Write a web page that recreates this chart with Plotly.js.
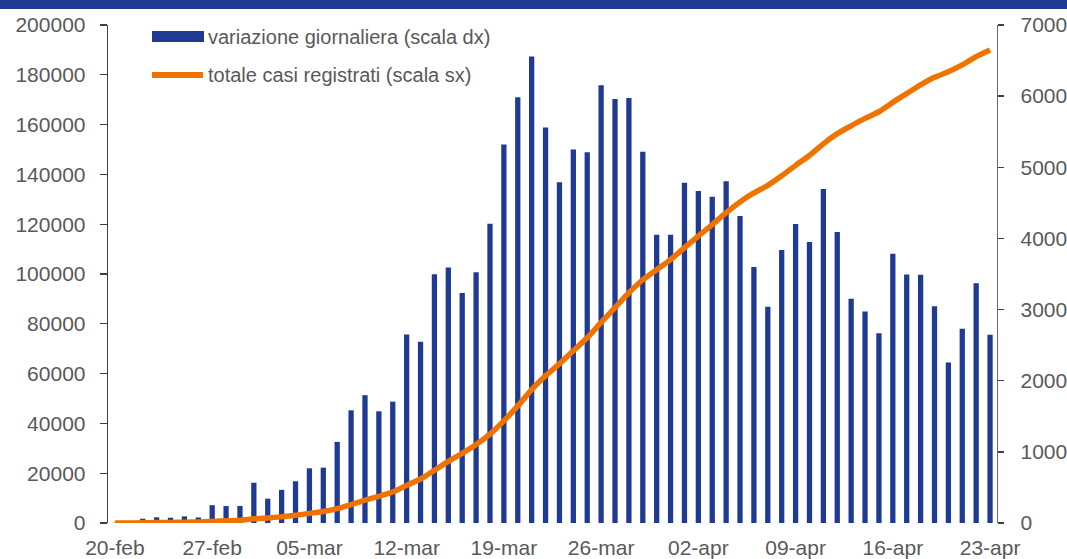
<!DOCTYPE html>
<html>
<head>
<meta charset="utf-8">
<script src="https://cdn.plot.ly/plotly-3.0.1.min.js"></script>
<style>
  html, body { margin: 0; padding: 0; background: #ffffff; }
  #chart { width: 1067px; height: 559px; }
</style>
</head>
<body>
<div id="chart"></div>
<script>
// ---- data ----
const categories = [
  "20-feb","21-feb","22-feb","23-feb","24-feb","25-feb","26-feb","27-feb","28-feb","29-feb",
  "01-mar","02-mar","03-mar","04-mar","05-mar","06-mar","07-mar","08-mar","09-mar","10-mar",
  "11-mar","12-mar","13-mar","14-mar","15-mar","16-mar","17-mar","18-mar","19-mar","20-mar",
  "21-mar","22-mar","23-mar","24-mar","25-mar","26-mar","27-mar","28-mar","29-mar","30-mar","31-mar",
  "01-apr","02-apr","03-apr","04-apr","05-apr","06-apr","07-apr","08-apr","09-apr","10-apr",
  "11-apr","12-apr","13-apr","14-apr","15-apr","16-apr","17-apr","18-apr","19-apr","20-apr",
  "21-apr","22-apr","23-apr"
];
const dailyChange = [
  3, 17, 60, 80, 74, 93, 78, 250, 238, 240,
  566, 342, 466, 587, 769, 778, 1140, 1584, 1797, 1570,
  1706, 2651, 2547, 3497, 3590, 3233, 3526, 4207, 5322, 5986,
  6557, 5560, 4789, 5249, 5210, 6153, 5959, 5974, 5217, 4050, 4053,
  4782, 4668, 4585, 4805, 4316, 3599, 3039, 3836, 4204, 3951,
  4694, 4092, 3153, 2972, 2667, 3786, 3493, 3491, 3047, 2256,
  2729, 3370, 2646
];
const totalCases = [
  3, 20, 80, 160, 229, 322, 400, 650, 888, 1128,
  1694, 2036, 2502, 3089, 3858, 4636, 5776, 7360, 9157, 10727,
  12433, 15113, 17660, 21157, 24747, 27980, 31506, 35713, 41035, 47021,
  53578, 59138, 63927, 69176, 74386, 80539, 86498, 92472, 97689, 101739, 105792,
  110574, 115242, 119827, 124632, 128948, 132547, 135586, 139422, 143626, 147577,
  152271, 156363, 159516, 162488, 165155, 168941, 172434, 175925, 178972, 181228,
  183957, 187327, 189973
];
const xTickLabels = ["20-feb","27-feb","05-mar","12-mar","19-mar","26-mar","02-apr","09-apr","16-apr","23-apr"];
const seriesNames = ["variazione giornaliera (scala dx)", "totale casi registrati (scala sx)"];

// ---- styling ----
const BLUE = "#1f3a93";
const ORANGE = "#f07300";
const GREY = "#595959";
const FONT = "Liberation Sans, Arial, sans-serif";

// plot-area pixel frame (for placing the custom legend / band)
const L = 108, R = 997, T = 25, B = 523;
const px = x => (x - L) / (R - L);
const py = y => (B - y) / (B - T);

const bars = {
  type: "bar",
  x: categories,
  y: dailyChange,
  yaxis: "y",
  name: seriesNames[0],
  marker: { color: BLUE },
  showlegend: false,
  hoverinfo: "x+y"
};
const line = {
  type: "scatter",
  mode: "lines",
  x: categories,
  y: totalCases,
  yaxis: "y2",
  name: seriesNames[1],
  line: { color: ORANGE, width: 5.5, shape: "spline", smoothing: 0.6 },
  showlegend: false,
  hoverinfo: "x+y"
};

const layout = {
  width: 1067,
  height: 559,
  margin: { l: L, r: 1067 - R, t: T, b: 559 - B, pad: 0 },
  paper_bgcolor: "#ffffff",
  plot_bgcolor: "#ffffff",
  font: { family: FONT, size: 21, color: GREY },
  bargap: 0.62,
  showlegend: false,
  xaxis: {
    type: "category",
    tickvals: xTickLabels,
    ticktext: xTickLabels,
    ticks: "",
    showline: false,
    showgrid: false,
    zeroline: false,
    tickangle: 0,
    ticklabelstandoff: 10,
    tickfont: { family: FONT, size: 21, color: GREY },
    range: [-0.5, categories.length - 0.5]
  },
  yaxis: {
    side: "right",
    range: [0, 7000],
    dtick: 1000,
    tick0: 0,
    tickformat: "d",
    ticks: "outside",
    ticklen: 6,
    tickwidth: 1.3,
    tickcolor: "#404040",
    showline: true,
    linecolor: "#6b6b6b",
    linewidth: 1.3,
    showgrid: false,
    zeroline: false,
    ticklabelstandoff: 12,
    tickfont: { family: FONT, size: 21, color: GREY }
  },
  yaxis2: {
    overlaying: "y",
    side: "left",
    range: [0, 200000],
    dtick: 20000,
    tick0: 0,
    tickformat: "d",
    ticks: "outside",
    ticklen: 7,
    tickwidth: 1.3,
    tickcolor: "#404040",
    showline: true,
    linecolor: "#404040",
    linewidth: 1.3,
    showgrid: false,
    zeroline: false,
    ticklabelstandoff: 10,
    tickfont: { family: FONT, size: 21, color: GREY }
  },
  shapes: [
    { type: "rect", xref: "paper", yref: "paper",
      x0: px(0), x1: px(1067), y0: py(9), y1: py(0),
      fillcolor: BLUE, line: { width: 0 }, layer: "above" },
    { type: "rect", xref: "paper", yref: "paper",
      x0: px(152), x1: px(204), y0: py(42), y1: py(31),
      fillcolor: BLUE, line: { width: 0 }, layer: "above" },
    { type: "line", xref: "paper", yref: "paper",
      x0: px(152), x1: px(203), y0: py(75), y1: py(75),
      line: { color: ORANGE, width: 6 }, layer: "above" }
  ],
  annotations: [
    { xref: "paper", yref: "paper", x: px(206), y: py(37),
      xanchor: "left", yanchor: "middle", showarrow: false,
      text: seriesNames[0], font: { family: FONT, size: 20, color: GREY } },
    { xref: "paper", yref: "paper", x: px(206), y: py(75),
      xanchor: "left", yanchor: "middle", showarrow: false,
      text: seriesNames[1], font: { family: FONT, size: 20, color: GREY } }
  ]
};

Plotly.newPlot("chart", [bars, line], layout, { staticPlot: true, displayModeBar: false });
</script>
</body>
</html>
